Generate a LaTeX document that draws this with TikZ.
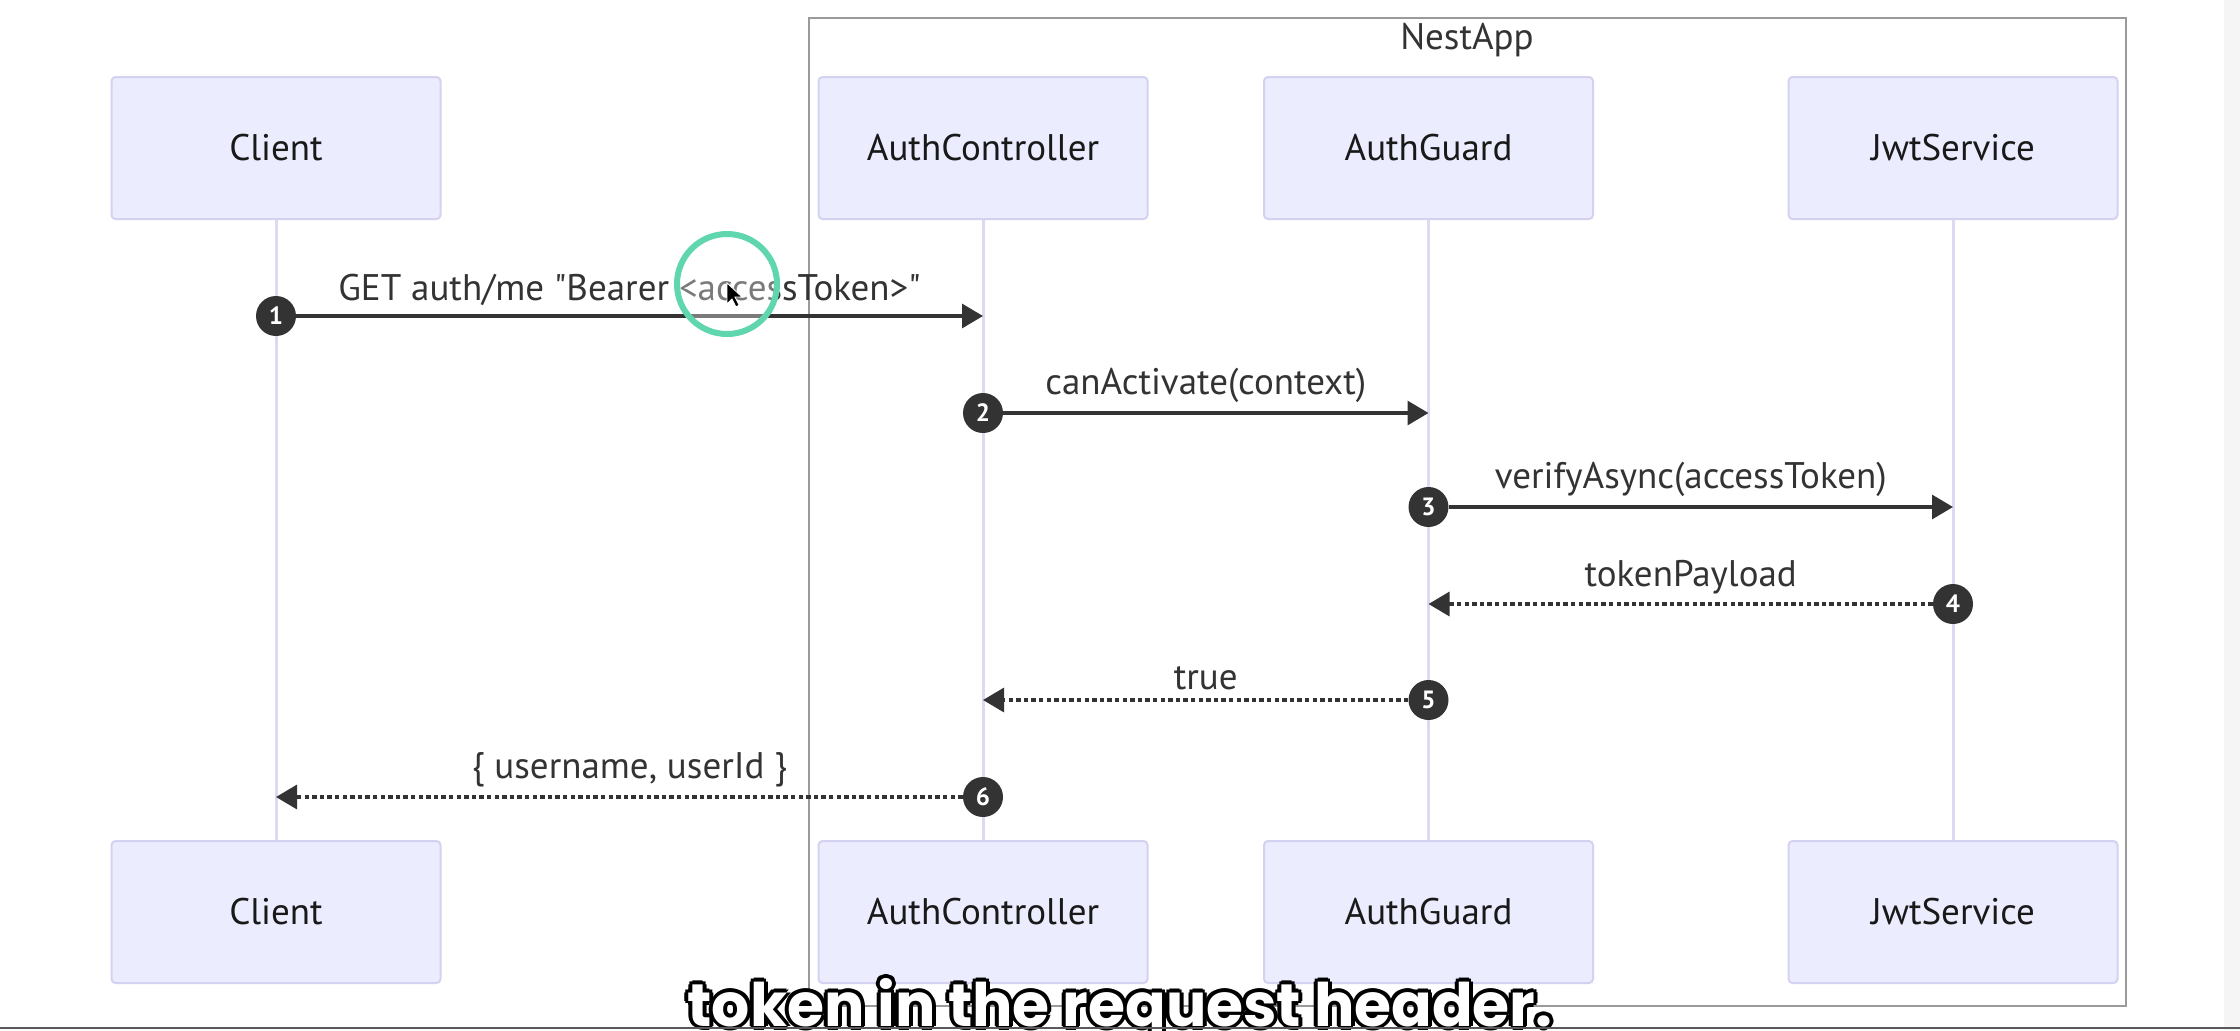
\documentclass[tikz,border=0pt]{standalone}
\usepackage{fontspec}
\setmainfont{PT Sans}[Ligatures=TeXOff]
\newfontfamily\capfont{Poppins}
\usetikzlibrary{arrows.meta,positioning}

\definecolor{boxfill}{HTML}{ECECFF}
\definecolor{boxline}{HTML}{D4D2F0}
\definecolor{lifeline}{HTML}{DCD9F2}
\definecolor{msgline}{HTML}{333333}
\definecolor{framegray}{HTML}{9A9A9A}
\definecolor{ringgreen}{HTML}{5FD6AE}

\tikzset{
    actor/.style={draw=boxline, line width=1pt, fill=boxfill, rounded corners=2pt,
        minimum width=164.5pt, minimum height=71pt,
        font=\fontsize{18.5}{20}\selectfont, text=black!90},
    life/.style={draw=lifeline, line width=1.5pt},
    stepnum/.style={circle, fill=msgline, text=white, inner sep=0pt, minimum size=20pt,
        font=\fontsize{12.5}{13}\selectfont\bfseries},
    call/.style={draw=msgline, line width=1.6pt, -{Triangle[length=10.5pt,width=12pt]}},
    reply/.style={call, dash pattern=on 2.2pt off 1.6pt},
    msg/.style={font=\fontsize{18.5}{20}\selectfont, text=msgline},
    captext/.style={font=\capfont\bfseries\fontsize{30}{32}\selectfont},
}

\begin{document}
\begin{tikzpicture}[x=0.5pt, y=-0.5pt]

    % Page
    \useasboundingbox[fill=white] (0,0) rectangle (2240,1030);
    \fill[black!4] (2224,0) rectangle (2240,1030);

    % NestApp frame
    \draw[framegray, line width=1.2pt] (809,18) rectangle (2126,1006);
    \node[msg, text=black!80] (nestapp) at (1467,40) {NestApp};

    % Participants, top and bottom, with lifelines
    \foreach \name/\txt/\x in {cli/Client/276, ctrl/AuthController/983,
                               guard/AuthGuard/1428.5, jwt/JwtService/1953} {
        \node[actor] (\name T) at (\x,148) {\txt};
        \node[actor] (\name B) at (\x,912) {\txt};
        \draw[life] (\name T) -- (\name B);
    }

    % Messages
    \foreach \n/\y/\from/\to/\kind/\txt in {
            1/316/cli/ctrl/call/{GET auth/me "Bearer <accessToken>"},
            2/413/ctrl/guard/call/{canActivate(context)},
            3/507/guard/jwt/call/{verifyAsync(accessToken)},
            4/604/jwt/guard/reply/{tokenPayload},
            5/700/guard/ctrl/reply/{true},
            6/797/ctrl/cli/reply/{\{ username, userId \}}} {
        \node[stepnum] (s\n) at (\from T.south |- 0,\y) {\n};
        \coordinate (e\n) at (\to T.south |- s\n);
        \draw[\kind] (s\n) -- (e\n);
        \path (s\n.center) -- (e\n) node[msg, midway, above=1.5pt] {\txt};
    }

    % Cursor highlight
    \draw[ringgreen, line width=3pt, fill=white, fill opacity=0.35] (727,284) circle (25pt);
    \filldraw[black, draw=white, line width=0.4pt]
        (727,283) -- (727,304) -- (732,299) -- (736,307) -- (739,305)
        -- (735,297) -- (742,297) -- cycle;

    % Caption
    \foreach \a in {0,45,...,315} {
        \node[captext, text=black] at ([shift={(\a:2pt)}]1120,1010) {token in the request header.};
    }
    \node[captext, text=white] (caption) at (1120,1010) {token in the request header.};

    % Bottom edge
    \draw[black!65, line width=1pt] (0,1028) -- (2240,1028);
\end{tikzpicture}
\end{document}
